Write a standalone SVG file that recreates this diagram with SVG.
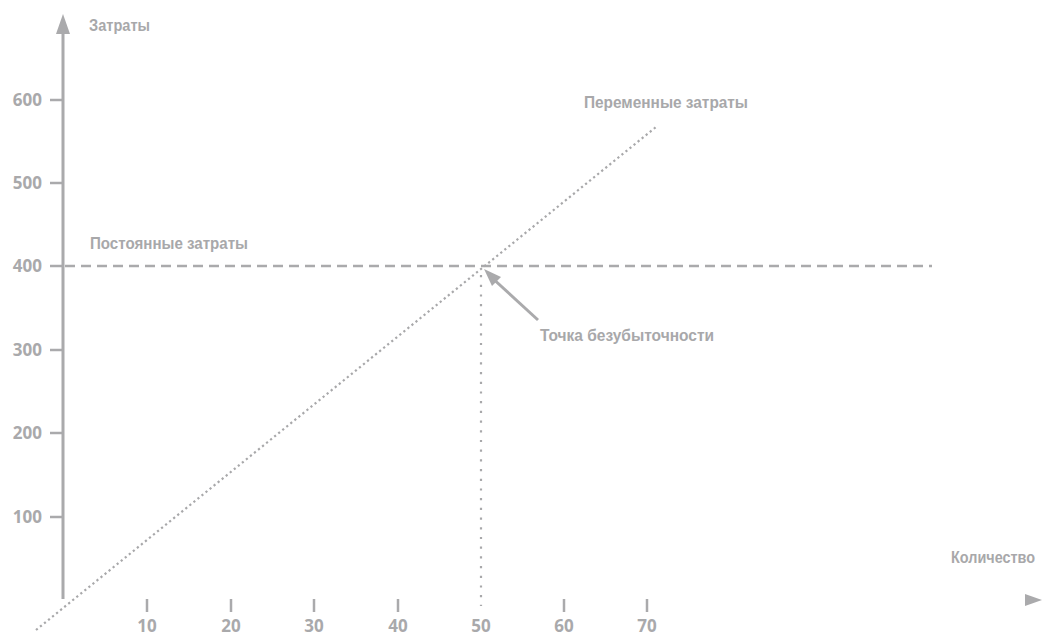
<svg xmlns="http://www.w3.org/2000/svg" width="1042" height="637" viewBox="0 0 1042 637">
<style>
.ax{stroke:#aaaaac;stroke-width:3;fill:none}
.tk{stroke:#aaaaac;stroke-width:2.5;fill:none}
.num{font-family:"Open Sans","Liberation Sans",sans-serif;font-weight:bold;font-size:17px;fill:#a9a9ab}
.lbl{font-family:"Liberation Sans Narrow","Liberation Sans",sans-serif;font-size:16px;font-weight:bold;fill:#a8a8aa}
.dash{stroke:#aaaaac;stroke-width:2.5;stroke-dasharray:10 6;fill:none}
.dot{stroke:#a8a8aa;stroke-width:2.2;stroke-dasharray:2.2 3;fill:none}
.vdot{stroke:#a8a8aa;stroke-width:2.2;stroke-dasharray:2.2 7.5;fill:none}
</style>
<g id="y-axis">
<line class="ax" x1="63" y1="32" x2="63" y2="599"/>
<path d="M56,34 L63,14 L70,34 Z" fill="#aaaaac"/>
<text class="lbl" x="89" y="31" textLength="61" lengthAdjust="spacingAndGlyphs">Затраты</text>
<line class="tk" x1="50" y1="100" x2="63" y2="100"/>
<line class="tk" x1="50" y1="183" x2="63" y2="183"/>
<line class="tk" x1="50" y1="266" x2="63" y2="266"/>
<line class="tk" x1="50" y1="350" x2="63" y2="350"/>
<line class="tk" x1="50" y1="433" x2="63" y2="433"/>
<line class="tk" x1="50" y1="517" x2="63" y2="517"/>
<g text-anchor="end">
<text class="num" x="42" y="106">600</text>
<text class="num" x="42" y="189">500</text>
<text class="num" x="42" y="272">400</text>
<text class="num" x="42" y="356">300</text>
<text class="num" x="42" y="439">200</text>
<text class="num" x="42" y="523">100</text>
</g>
</g>
<g id="x-axis">
<path d="M1025,594 L1042,600 L1025,606 Z" fill="#aaaaac"/>
<text class="lbl" x="1035" y="563" font-size="14" text-anchor="end" textLength="84" lengthAdjust="spacingAndGlyphs">Количество</text>
<line class="tk" x1="147" y1="599" x2="147" y2="612"/>
<line class="tk" x1="231" y1="599" x2="231" y2="612"/>
<line class="tk" x1="314" y1="599" x2="314" y2="612"/>
<line class="tk" x1="398" y1="599" x2="398" y2="612"/>
<line class="tk" x1="564" y1="599" x2="564" y2="612"/>
<line class="tk" x1="647" y1="599" x2="647" y2="612"/>
<g text-anchor="middle">
<text class="num" x="147" y="632">10</text>
<text class="num" x="231" y="632">20</text>
<text class="num" x="314" y="632">30</text>
<text class="num" x="398" y="632">40</text>
<text class="num" x="481" y="632">50</text>
<text class="num" x="564" y="632">60</text>
<text class="num" x="647" y="632">70</text>
</g>
</g>
<g id="fixed-costs">
<line class="dash" x1="65" y1="266" x2="932" y2="266"/>
<text class="lbl" x="90" y="249" textLength="158" lengthAdjust="spacingAndGlyphs">Постоянные затраты</text>
</g>
<g id="variable-costs">
<line class="dot" x1="36" y1="630" x2="656" y2="127"/>
<text class="lbl" x="584" y="108" textLength="164" lengthAdjust="spacingAndGlyphs">Переменные затраты</text>
</g>
<g id="break-even">
<text class="lbl" x="540" y="341" textLength="174" lengthAdjust="spacingAndGlyphs">Точка безубыточности</text>
</g>
<g id="connectors">
<line class="vdot" x1="481" y1="275" x2="481" y2="606"/>
<line x1="538" y1="320" x2="490" y2="276" stroke="#aaaaac" stroke-width="3"/>
<path d="M484,269 L501,277 L492,286 Z" fill="#aaaaac"/>
</g>
</svg>
